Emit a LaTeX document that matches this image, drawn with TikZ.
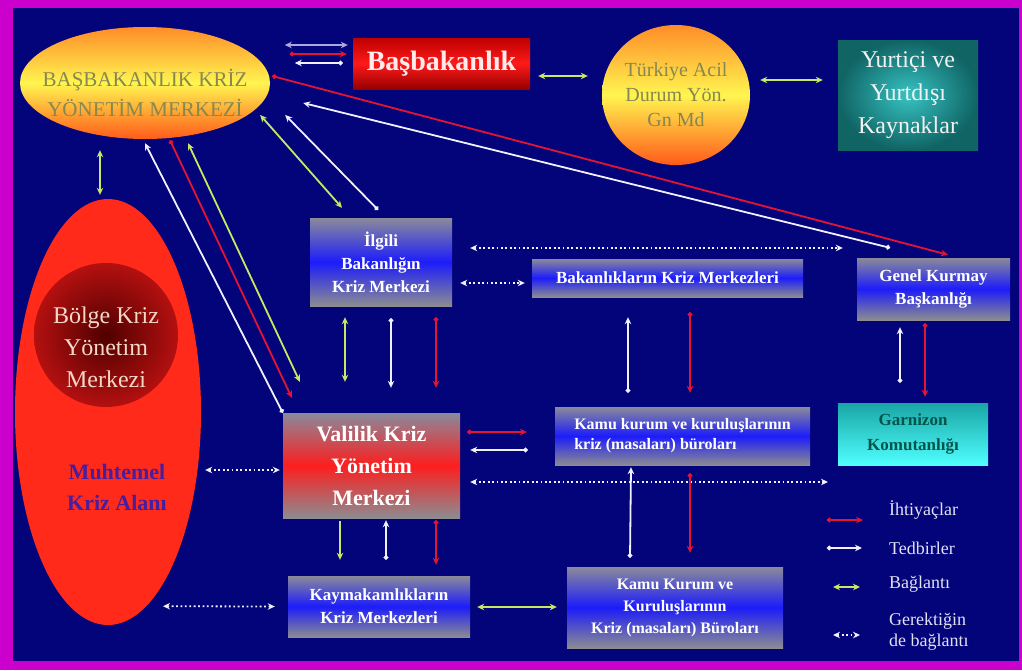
\documentclass[tikz,border=0pt]{standalone}
\usepackage{fontspec}
\setmainfont{Liberation Serif}
\usetikzlibrary{arrows.meta,shapes.geometric,calc}
\definecolor{framec}{RGB}{204,0,204}
\definecolor{navyc}{RGB}{3,3,122}
\definecolor{arrred}{RGB}{228,20,50}
\definecolor{arrwhite}{RGB}{240,240,255}
\definecolor{arrgreen}{RGB}{200,232,100}
\definecolor{arrlav}{RGB}{175,165,225}
\definecolor{boxgray}{RGB}{138,138,155}
\definecolor{boxgrayb}{RGB}{140,140,145}
\definecolor{boxblue}{RGB}{28,28,250}
\definecolor{boxred}{RGB}{252,30,30}
\definecolor{ellO}{RGB}{255,140,40}
\definecolor{ellY}{RGB}{255,245,80}
\definecolor{ellR}{RGB}{255,90,25}
\definecolor{olivet}{RGB}{135,135,80}
\definecolor{bbTop}{RGB}{190,0,0}
\definecolor{bbMid}{RGB}{255,25,25}
\definecolor{bbBot}{RGB}{150,0,0}
\definecolor{tealin}{RGB}{55,195,195}
\definecolor{tealout}{RGB}{16,100,100}
\definecolor{muhtred}{RGB}{255,42,26}
\definecolor{bolgein}{RGB}{80,0,0}
\definecolor{bolgeout}{RGB}{180,16,16}
\definecolor{bolget}{RGB}{245,215,200}
\definecolor{muhtt}{RGB}{70,30,160}
\definecolor{garntop}{RGB}{25,165,165}
\definecolor{garnbot}{RGB}{80,255,255}
\definecolor{garntext}{RGB}{0,85,75}
\definecolor{legt}{RGB}{225,225,245}
\begin{document}
\begin{tikzpicture}[x=1pt,y=-1pt,
  box/.style={rectangle, draw=none, inner sep=0pt, align=center, text=white,
    font=\bfseries\fontsize{17}{23}\selectfont},
  bluebox/.style={box, top color=boxgray, bottom color=boxgrayb, middle color=boxblue},
  redbox/.style={box, top color=boxgray, bottom color=boxgrayb, middle color=boxred},
  ln/.style={line width=1.8pt},
  rarr/.style={ln, draw=arrred, arrows={Circle[length=4.5pt]-Stealth[length=7pt,width=6.5pt]}},
  warr/.style={ln, draw=arrwhite, arrows={Circle[length=4.5pt]-Stealth[length=7pt,width=6.5pt]}},
  garr/.style={ln, draw=arrgreen, arrows={Stealth[length=7pt,width=6.5pt]-Stealth[length=7pt,width=6.5pt]}},
  gone/.style={ln, draw=arrgreen, arrows={-Stealth[length=7pt,width=6.5pt]}},
  larr/.style={ln, draw=arrlav, arrows={Stealth[length=7pt,width=6.5pt]-Stealth[length=7pt,width=6.5pt]}},
  darr/.style={line width=1.8pt, draw=arrwhite, dash pattern=on 1.8pt off 2.6pt,
    arrows={Stealth[length=7pt,width=6.5pt]-Stealth[length=7pt,width=6.5pt]}},
  legtext/.style={anchor=west, text=legt, inner sep=0pt, align=left, font=\fontsize{18}{21}\selectfont}
]
% background
\fill[framec] (0,0) rectangle (1022,670);
\fill[navyc] (13,8) rectangle (1019,661);

% top ellipse
\node[ellipse, minimum width=250pt, minimum height=112pt, inner sep=0pt,
  top color=ellO, bottom color=ellR, middle color=ellY,
  label={[name=bkymt, yshift=-10pt, text=olivet, align=center, font=\fontsize{21}{30}\selectfont]center:{BAŞBAKANLIK KRİZ\\YÖNETİM MERKEZİ}}] (bkym) at (145,83) {};

\node[box, minimum width=177pt, minimum height=51pt, top color=bbTop, bottom color=bbBot, middle color=bbMid,
  text={rgb,255:red,255;green,235;blue,235}, font=\bfseries\fontsize{28}{32}\selectfont] (basb) at (441.5,63.5) {Başbakanlık};

\node[ellipse, minimum width=148pt, minimum height=140pt, inner sep=0pt,
  top color=ellO, bottom color=ellR, middle color=ellY, text=olivet, align=center,
  font=\fontsize{20}{25}\selectfont] (tacil) at (676,95) {Türkiye Acil\\Durum Yön.\\Gn Md};

\node[box, minimum width=140pt, minimum height=110pt, inner color=tealin, outer color=tealout,
  text={rgb,255:red,242;green,242;blue,242}, font=\fontsize{24}{33}\selectfont] (yurt) at (908,95) {Yurtiçi ve\\Yurtdışı\\Kaynaklar};

% left big area
\node[ellipse, minimum width=186pt, minimum height=426pt, inner sep=0pt, fill=muhtred,
  label={[name=muhttext, xshift=9pt, yshift=-75pt, text=muhtt, align=center, font=\bfseries\fontsize{22}{31}\selectfont]center:{Muhtemel\\Kriz Alanı}}] (muht) at (108,412) {};
\node[circle, minimum size=144pt, inner sep=0pt, inner color=bolgein, outer color=bolgeout,
  label={[name=bolget, yshift=-12pt, text=bolget, align=center, font=\fontsize{24}{32}\selectfont]center:{Bölge Kriz\\Yönetim\\Merkezi}}] (bolge) at (106,335) {};

% boxes
\node[bluebox, minimum width=142pt, minimum height=88pt] (ilgili) at (381,262) {İlgili\\Bakanlığın\\Kriz Merkezi};
\node[bluebox, minimum width=271pt, minimum height=38pt] (bakm) at (667.5,278) {Bakanlıkların Kriz Merkezleri};
\node[bluebox, minimum width=153pt, minimum height=62pt] (genel) at (933.5,289) {Genel Kurmay\\Başkanlığı};
\node[box, minimum width=150pt, minimum height=62pt, top color=garntop, bottom color=garnbot, text=garntext,
  font=\bfseries\fontsize{17}{25}\selectfont] (garn) at (913,434) {Garnizon\\Komutanlığı};
\node[redbox, minimum width=177pt, minimum height=105pt, font=\bfseries\fontsize{22}{32}\selectfont] (vali) at (371.5,465.5) {Valilik Kriz\\Yönetim\\Merkezi};
\node[bluebox, minimum width=255pt, minimum height=58pt, align=left, font=\bfseries\fontsize{16}{20}\selectfont] (kamu1) at (682.5,436) {Kamu kurum ve kuruluşlarının\\kriz (masaları) büroları};
\node[bluebox, minimum width=182pt, minimum height=61pt] (kaym) at (379,606.5) {Kaymakamlıkların\\Kriz Merkezleri};
\node[bluebox, minimum width=216pt, minimum height=81pt, font=\bfseries\fontsize{16}{22}\selectfont] (kamu2) at (675,607.5) {Kamu Kurum ve\\Kuruluşlarının\\Kriz (masaları) Büroları};

% connectors: top
\draw[garr] ($(bkym.south)+(-45,11)$) -- ($(muht.north)+(-8,-4)$);
\draw[larr] ($(basb.west)+(-68,-18.5)$) -- ($(basb.west)+(-5,-18.5)$);
\draw[rarr] ($(basb.west)+(-63,-9.5)$) -- ($(basb.west)+(-6,-9.5)$);
\draw[warr] ($(basb.west)+(-10,-0.5)$) -- ($(basb.west)+(-58,-0.5)$);
\draw[garr] ($(basb.east)+(8,12.5)$) -- ($(tacil.west)+(-14,-19)$);
\draw[garr] ($(tacil.east)+(10,-15)$) -- ($(yurt.west)+(-15,-15)$);
\draw[rarr] ($(bkym.east)+(2,-7)$) -- ($(genel.north)+(14.5,-3)$);
\draw[warr] ($(genel.north)+(-43.5,-10)$) -- ($(bkym.east)+(33,20)$);
\draw[garr] ($(bkym.east)+(-10,32)$) -- ($(ilgili.north)+(-39,-10)$);
\draw[warr] ($(ilgili.north)+(-3,-8)$) -- ($(bkym.east)+(15,32)$);
\draw[warr] (vali.north west) -- ($(bkym.south)+(0,4)$);
\draw[rarr] ($(bkym.south)+(25,1)$) -- ($(vali.north west)+(9,-15)$);
\draw[garr] ($(bkym.south)+(43,4)$) -- ($(vali.north west)+(17,-31)$);

% ilgili - vali
\draw[garr] ($(ilgili.south)+(-36,11)$) -- ($(vali.north)+(-26.5,-31)$);
\draw[warr] ($(ilgili.south)+(10,12)$) -- ($(vali.north)+(19.5,-25)$);
\draw[rarr] ($(ilgili.south)+(55,11)$) -- ($(vali.north)+(64.5,-25)$);

% dotted links
\draw[darr] ($(ilgili.east)+(18,-14)$) -- ($(genel.west)+(-14,-41)$);
\draw[darr] ($(ilgili.east)+(8,21)$) -- ($(bakm.west)+(-7,5)$);
\coordinate (dotend) at (828,482);
\draw[darr] ($(vali.east)+(10,16.5)$) -- (dotend);
\draw[darr] ($(muht.east)+(4,58)$) -- ($(vali.west)+(-3,4.5)$);
\draw[darr] ($(muht.south)+(55,-19)$) -- ($(kaym.west)+(-13,0)$);

% bakm - kamu1
\draw[warr] ($(kamu1.north)+(-54.5,-14)$) -- ($(bakm.south)+(-39.5,20)$);
\draw[rarr] ($(bakm.south)+(22.5,15)$) -- ($(kamu1.north)+(7.5,-14)$);

% genel - garn
\draw[warr] ($(garn.north)+(-13,-20)$) -- ($(genel.south)+(-33.5,7)$);
\draw[rarr] ($(genel.south)+(-8.5,3)$) -- ($(garn.north)+(12,-6)$);

% vali - kamu1
\draw[rarr] ($(vali.east)+(7,-33.5)$) -- ($(kamu1.west)+(-28,-4)$);
\draw[warr] ($(kamu1.west)+(-27,14)$) -- ($(vali.east)+(10,-15.5)$);

% vali - kaym
\draw[gone] ($(vali.south)+(-31.5,3)$) -- ($(kaym.north)+(-39,-16)$);
\draw[warr] ($(kaym.north)+(7,-16)$) -- ($(vali.south)+(14.5,2)$);
\draw[rarr] ($(vali.south)+(64.5,2)$) -- ($(kaym.north)+(57,-11)$);

% kaym - kamu2
\draw[garr] ($(kaym.east)+(7,0.5)$) -- ($(kamu2.west)+(-10,-0.5)$);

% kamu2 - kamu1
\draw[warr] ($(kamu2.north)+(-45,-9)$) -- ($(kamu1.south)+(-51.5,2)$);
\draw[rarr] ($(kamu1.south)+(7.5,8)$) -- ($(kamu2.north)+(15,-14)$);

% legend
\coordinate (lg1a) at (827,520); \coordinate (lg1b) at (863,520);
\coordinate (lg2a) at (827,548); \coordinate (lg2b) at (862,548);
\coordinate (lg3a) at (833,587); \coordinate (lg3b) at (860,587);
\coordinate (lg4a) at (833,635); \coordinate (lg4b) at (860,635);
\draw[rarr] (lg1a) -- (lg1b);
\draw[warr] (lg2a) -- (lg2b);
\draw[garr] (lg3a) -- (lg3b);
\draw[darr] (lg4a) -- (lg4b);
\node[legtext] (leg1) at (889,510) {İhtiyaçlar};
\node[legtext] (leg2) at (889,548) {Tedbirler};
\node[legtext] (leg3) at (889,584) {Bağlantı};
\node[legtext] (leg4) at (889,632) {Gerektiğin\\de bağlantı};
\end{tikzpicture}
\end{document}
